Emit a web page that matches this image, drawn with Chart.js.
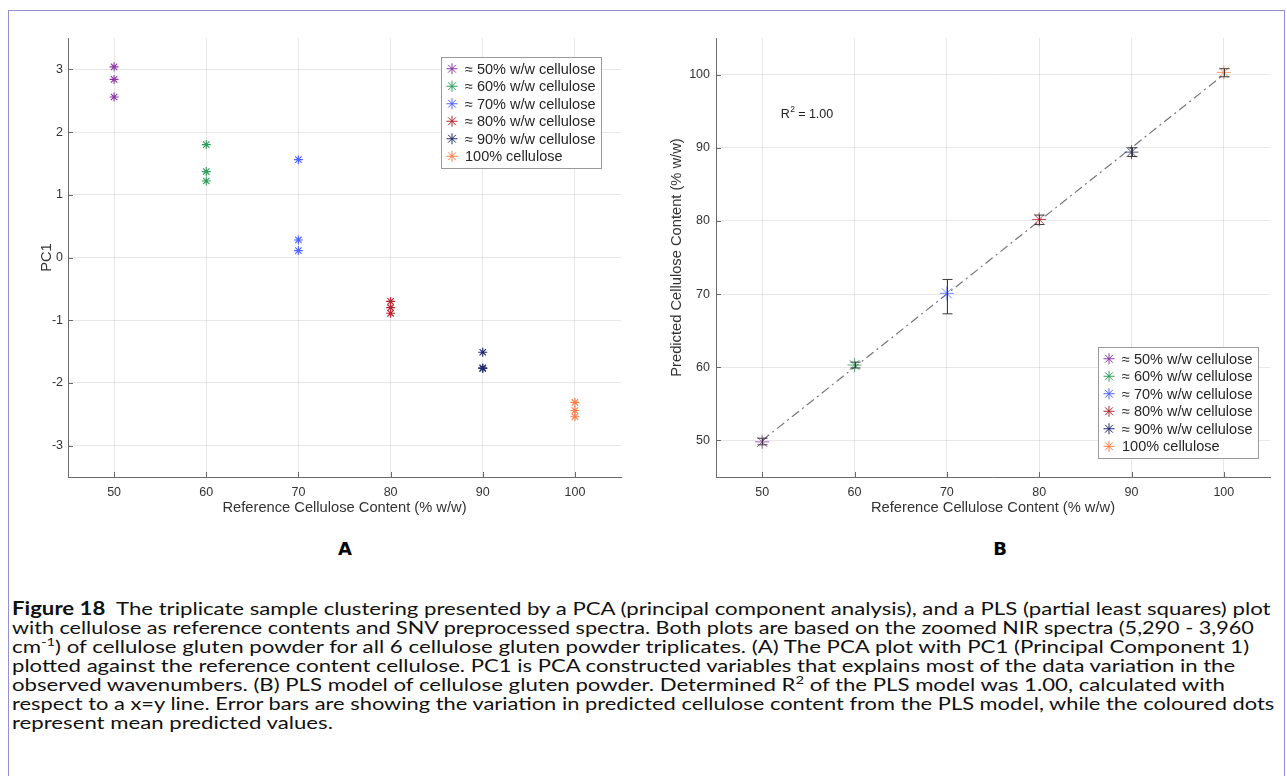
<!DOCTYPE html>
<html>
<head>
<meta charset="utf-8">
<script src="https://cdn.jsdelivr.net/npm/chart.js@4.4.1/dist/chart.umd.min.js"></script>
<style>
    body { margin: 0; width: 1287px; height: 776px; background: #fff; position: relative; overflow: hidden; font-family: "Liberation Sans", Arial, sans-serif; }
    #frame { position: absolute; left: 8px; top: 10px; width: 1277px; height: 800px; border: 1px solid #9191d2; border-bottom: none; box-sizing: border-box; }
    canvas { position: absolute; top: 0; }
    #pcaChart { left: 0; }
    #plsChart { left: 640px; }
    .panel { position: absolute; top: 538px; font: bold 18px "DejaVu Sans", sans-serif; transform: translateX(-50%); }
    /* caption font is narrower than the original, so each line is stretched to the original length */
    #caption { position: absolute; left: 12px; top: 599px; font-family: Lato, sans-serif; font-size: 18px; line-height: 19px; color: #111; white-space: nowrap; }
    #caption div { transform-origin: 0 0; transform: scaleX(1.232); }
    #caption sup { font-size: 12px; line-height: 0; }
</style>
</head>
<body>
<div id="frame"></div>
<canvas id="pcaChart" width="640" height="520"></canvas>
<canvas id="plsChart" width="647" height="520"></canvas>
<div class="panel" style="left:345px">A</div>
<div class="panel" style="left:1000px">B</div>
<div id="caption">
    <div><b>Figure 18</b>&nbsp; The triplicate sample clustering presented by a PCA (principal component analysis), and a PLS (partial least squares) plot</div>
    <div style="transform: scaleX(1.20)">with cellulose as reference contents and SNV preprocessed spectra. Both plots are based on the zoomed NIR spectra (5,290 - 3,960</div>
    <div style="transform: scaleX(1.237)">cm<sup>-1</sup>) of cellulose gluten powder for all 6 cellulose gluten powder triplicates. (A) The PCA plot with PC1 (Principal Component 1)</div>
    <div style="transform: scaleX(1.227)">plotted against the reference content cellulose. PC1 is PCA constructed variables that explains most of the data variation in the</div>
    <div>observed wavenumbers. (B) PLS model of cellulose gluten powder. Determined R<sup>2</sup> of the PLS model was 1.00, calculated with</div>
    <div style="transform: scaleX(1.215)">respect to a x=y line. Error bars are showing the variation in predicted cellulose content from the PLS model, while the coloured dots</div>
    <div>represent mean predicted values.</div>
</div>

<script>
// reference cellulose content (% w/w) for the six triplicates
const refContent = [50, 60, 70, 80, 90, 100];
const seriesLabels = [
    '≈ 50% w/w cellulose',
    '≈ 60% w/w cellulose',
    '≈ 70% w/w cellulose',
    '≈ 80% w/w cellulose',
    '≈ 90% w/w cellulose',
    '100% cellulose'
];
const seriesColors = ['#8a37a3', '#2f9c59', '#4f63ff', '#b3262d', '#1f2a6e', '#ff7c40'];

// (A) PC1 scores, three replicates per sample
const pc1Scores = [
    [3.04, 2.84, 2.56],
    [1.80, 1.37, 1.22],
    [1.56, 0.28, 0.11],
    [-0.70, -0.80, -0.89],
    [-1.51, -1.76, -1.77],
    [-2.31, -2.44, -2.54]
];

// (B) PLS predicted content: mean and error bar ends
const predictedMean = [49.8, 60.3, 70.1, 80.2, 89.4, 100.3];
const predictedLow = [49.4, 59.9, 67.3, 79.5, 88.8, 99.7];
const predictedHigh = [50.3, 60.7, 72.0, 80.8, 90.0, 100.8];
const identityLine = [50, 100];

const xTicks = [50, 60, 70, 80, 90, 100];
const pcaTicks = [-3, -2, -1, 0, 1, 2, 3];
const plsTicks = [50, 60, 70, 80, 90, 100];

const FONT = '"Liberation Sans", Arial, sans-serif';
const gridColor = 'rgba(0,0,0,0.09)';
const axisColor = '#6b6b6b';

// legend drawn inside the plot, MATLAB style
const boxLegend = {
    id: 'boxLegend',
    afterDraw(chart, args, opts) {
        const { ctx, chartArea } = chart;
        ctx.save();
        ctx.font = '14.5px ' + FONT;
        const rowH = 17.5;
        const textW = Math.max(...seriesLabels.map(t => ctx.measureText(t).width));
        const w = Math.round(25 + textW + 5), h = Math.round(rowH * seriesLabels.length + 6);
        const x = Math.round(opts.right !== undefined ? chartArea.right - opts.right - w : chartArea.left + opts.left);
        const y = Math.round(opts.bottom !== undefined ? chartArea.bottom - opts.bottom - h : chartArea.top + opts.top);
        ctx.fillStyle = '#fff';
        ctx.fillRect(x, y, w, h);
        ctx.strokeStyle = '#9a9a9a';
        ctx.lineWidth = 1;
        ctx.strokeRect(x + 0.5, y + 0.5, w, h);
        seriesLabels.forEach((label, i) => {
            const cy = y + 3 + rowH * (i + 0.5);
            ctx.strokeStyle = seriesColors[i];
            ctx.lineWidth = 1;
            Chart.helpers.drawPoint(ctx, { pointStyle: 'star', radius: 5.5, borderWidth: 1, rotation: 0 }, x + 11, cy);
            ctx.fillStyle = '#262626';
            ctx.textBaseline = 'middle';
            ctx.fillText(label, x + 24, cy + 1);
        });
        ctx.restore();
    }
};

// short inward tick marks on both axes
const innerTicks = {
    id: 'innerTicks',
    afterDraw(chart) {
        const { ctx, chartArea, scales } = chart;
        ctx.save();
        ctx.strokeStyle = axisColor;
        ctx.lineWidth = 1;
        ctx.beginPath();
        scales.x.ticks.forEach(t => {
            const px = Math.round(scales.x.getPixelForValue(t.value)) + 0.5;
            ctx.moveTo(px, chartArea.bottom);
            ctx.lineTo(px, chartArea.bottom - 5);
        });
        scales.y.ticks.forEach(t => {
            const py = Math.round(scales.y.getPixelForValue(t.value)) + 0.5;
            ctx.moveTo(chartArea.left, py);
            ctx.lineTo(chartArea.left + 5, py);
        });
        ctx.stroke();
        ctx.restore();
    }
};

const errorBars = {
    id: 'errorBars',
    afterDatasetsDraw(chart, args, opts) {
        if (!opts.enabled) return;
        const { ctx, scales } = chart;
        ctx.save();
        ctx.strokeStyle = '#3a3a3a';
        ctx.lineWidth = 1;
        ctx.beginPath();
        refContent.forEach((xv, i) => {
            const px = Math.round(scales.x.getPixelForValue(xv)) + 0.5;
            const top = scales.y.getPixelForValue(predictedHigh[i]);
            const bot = scales.y.getPixelForValue(predictedLow[i]);
            ctx.moveTo(px, top); ctx.lineTo(px, bot);
            ctx.moveTo(px - 5, top); ctx.lineTo(px + 5, top);
            ctx.moveTo(px - 5, bot); ctx.lineTo(px + 5, bot);
        });
        ctx.stroke();
        ctx.restore();
    }
};

const r2Label = {
    id: 'r2Label',
    afterDraw(chart, args, opts) {
        if (!opts.enabled) return;
        const { ctx, scales } = chart;
        const px = scales.x.getPixelForValue(opts.x);
        const py = scales.y.getPixelForValue(opts.y);
        ctx.save();
        ctx.fillStyle = '#222';
        ctx.textBaseline = 'alphabetic';
        ctx.font = '12.5px ' + FONT;
        ctx.fillText('R', px, py + 5);
        const rw = ctx.measureText('R').width;
        ctx.font = '8.5px ' + FONT;
        ctx.fillText('2', px + rw + 0.5, py - 1);
        ctx.font = '12.5px ' + FONT;
        ctx.fillText(' = 1.00', px + rw + 5, py + 5);
        ctx.restore();
    }
};

function axis(min, max, ticks, title, fit, pad) {
    return {
        type: 'linear',
        min: min,
        max: max,
        afterBuildTicks: s => { s.ticks = ticks.map(v => ({ value: v })); },
        afterFit: fit,
        grid: { color: gridColor, drawTicks: false },
        border: { display: true, color: axisColor, width: 1 },
        ticks: { color: '#333', font: { family: FONT, size: 12.5 }, padding: pad },
        title: { display: true, text: title, color: '#333', font: { family: FONT, size: 14.7 }, padding: 3 }
    };
}

const pcaDatasets = pc1Scores.map((vals, i) => ({
    label: seriesLabels[i],
    data: vals.map(v => ({ x: refContent[i], y: v })),
    pointStyle: 'star',
    pointRadius: 4.5,
    pointBorderWidth: 1.1,
    borderColor: seriesColors[i],
    backgroundColor: seriesColors[i]
}));

new Chart(document.getElementById('pcaChart'), {
    type: 'scatter',
    data: { datasets: pcaDatasets },
    options: {
        responsive: false,
        animation: false,
        layout: { padding: { left: 35, top: 38, right: 19, bottom: 0 } },
        plugins: {
            legend: { display: false },
            tooltip: { enabled: false },
            boxLegend: { left: 373, top: 19 },
            errorBars: { enabled: false },
            r2Label: { enabled: false }
        },
        scales: {
            x: axis(45, 105, xTicks, 'Reference Cellulose Content (% w/w)', s => { s.height = 43; }, 8),
            y: axis(-3.5, 3.5, pcaTicks, 'PC1', s => { s.width = 33; }, 5)
        }
    },
    plugins: [innerTicks, errorBars, r2Label, boxLegend]
});

const plsDatasets = predictedMean.map((v, i) => ({
    label: seriesLabels[i],
    data: [{ x: refContent[i], y: v }],
    pointStyle: 'star',
    pointRadius: 7,
    pointBorderWidth: 1,
    borderColor: seriesColors[i] + 'cc',
    backgroundColor: seriesColors[i]
}));
plsDatasets.push({
    label: 'x = y',
    data: identityLine.map(v => ({ x: v, y: v })),
    showLine: true,
    pointRadius: 0,
    borderColor: '#777',
    borderWidth: 1.2,
    borderDash: [9, 4, 2, 4]
});

new Chart(document.getElementById('plsChart'), {
    type: 'scatter',
    data: { datasets: plsDatasets },
    options: {
        responsive: false,
        animation: false,
        layout: { padding: { left: 25, top: 38, right: 17, bottom: 0 } },
        plugins: {
            legend: { display: false },
            tooltip: { enabled: false },
            boxLegend: { right: 12, bottom: 19 },
            errorBars: { enabled: true },
            r2Label: { enabled: true, x: 52.0, y: 94.8 }
        },
        scales: {
            x: axis(45, 105, xTicks, 'Reference Cellulose Content (% w/w)', s => { s.height = 43; }, 8),
            y: axis(45, 105, plsTicks, 'Predicted Cellulose Content (% w/w)', s => { s.width = 51; }, 6)
        }
    },
    plugins: [innerTicks, errorBars, r2Label, boxLegend]
});
</script>
</body>
</html>
